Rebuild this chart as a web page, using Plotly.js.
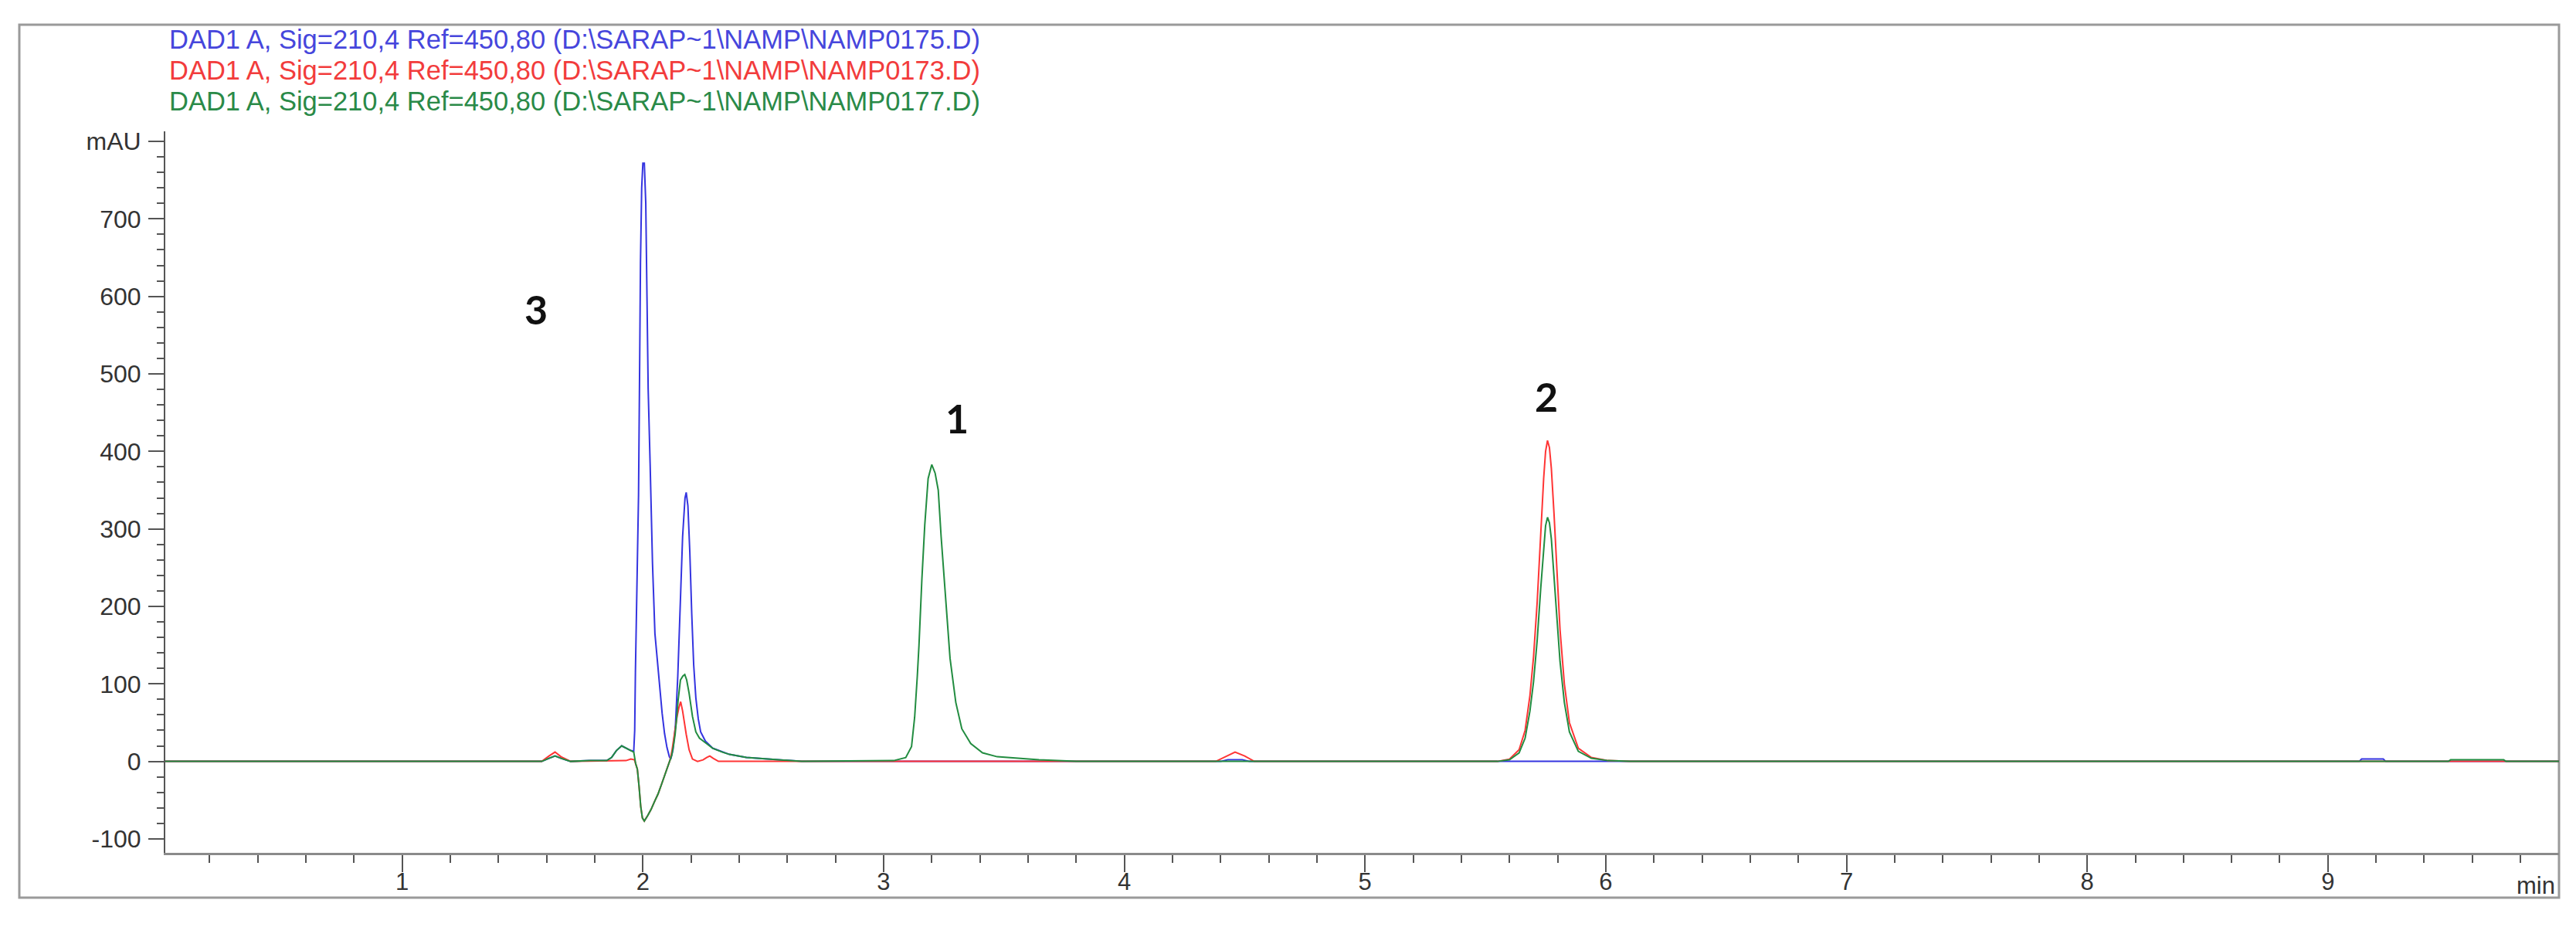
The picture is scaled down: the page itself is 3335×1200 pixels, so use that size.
<!DOCTYPE html>
<html>
<head>
<meta charset="utf-8">
<script src="https://cdn.plot.ly/plotly-3.0.1.min.js"></script>
<style>
  html, body { margin: 0; padding: 0; background: #ffffff; }
  #chart { width: 3335px; height: 1200px; }
</style>
</head>
<body>
<div id="chart"></div>
<script>
// ---- series names ----
const seriesNames = [
  "DAD1 A, Sig=210,4 Ref=450,80 (D:\\SARAP~1\\NAMP\\NAMP0175.D)",
  "DAD1 A, Sig=210,4 Ref=450,80 (D:\\SARAP~1\\NAMP\\NAMP0173.D)",
  "DAD1 A, Sig=210,4 Ref=450,80 (D:\\SARAP~1\\NAMP\\NAMP0177.D)"
];

// ---- NAMP0175 (blue) : time (min), signal (mAU) ----
const blueTime = [0, 1.58, 1.61, 1.635, 1.66, 1.70, 1.78, 1.85, 1.87, 1.89, 1.912, 1.93, 1.95, 1.962,
  1.966, 1.969, 1.975, 1.982, 1.986, 1.990, 1.995, 2.000, 2.006, 2.012, 2.017, 2.022, 2.030, 2.040,
  2.050, 2.067, 2.080, 2.090, 2.100, 2.110, 2.116, 2.125, 2.135, 2.145, 2.155, 2.165, 2.175, 2.180,
  2.187, 2.195, 2.203, 2.211, 2.220, 2.230, 2.240, 2.260, 2.290, 2.330, 2.360, 2.430, 2.550, 2.660,
  4.40, 4.43, 4.46, 4.49, 4.52, 9.13, 9.14, 9.23, 9.24, 9.96];
const blueSignal = [0, 0, 4, 7, 4, 0, 1, 1, 5, 14, 20, 17, 14, 13,
  40, 115, 230, 344, 490, 644, 740, 772, 772, 720, 600, 480, 385, 255,
  165, 102, 62, 36, 18, 6, 3, 15, 45, 110, 200, 290, 340, 347,
  330, 270, 190, 125, 82, 55, 38, 26, 17, 12, 9, 5, 2, 0,
  0, 2, 2, 2, 0, 0, 3, 3, 0, 0];

// ---- NAMP0173 (red) ----
const redTime = [0, 1.58, 1.61, 1.635, 1.66, 1.70, 1.93, 1.95, 1.965, 1.970, 1.977, 1.984, 1.991, 1.998,
  2.006, 2.020, 2.034, 2.048, 2.063, 2.077, 2.091, 2.105, 2.113, 2.120, 2.127, 2.135, 2.142, 2.150,
  2.157, 2.165, 2.172, 2.180, 2.192, 2.206, 2.227, 2.250, 2.265, 2.278, 2.292, 2.314,
  4.38, 4.42, 4.46, 4.50, 4.54,
  5.55, 5.60, 5.64, 5.665, 5.685, 5.70, 5.715, 5.73, 5.742, 5.750, 5.758, 5.766, 5.774, 5.785,
  5.796, 5.810, 5.828, 5.849, 5.886, 5.94, 6.01, 6.10, 9.96];
const redSignal = [0, 0, 7, 12, 6, 0, 1, 3, 2, -3, -10, -32, -58, -73,
  -77, -70, -62, -52, -42, -30, -18, -5, 2, 12, 28, 42, 58, 70,
  77, 65, 50, 35, 15, 3, 0, 2, 5, 7, 4, 0,
  0, 6, 12, 7, 0,
  0, 3, 15, 40, 85, 135, 205, 295, 365, 400, 414, 405, 378, 320,
  250, 170, 100, 50, 17, 5, 1, 0, 0];

// ---- NAMP0177 (green) ----
const greenTime = [0, 1.58, 1.61, 1.635, 1.66, 1.70, 1.78, 1.85, 1.87, 1.89, 1.912, 1.93, 1.95, 1.962,
  1.970, 1.977, 1.984, 1.991, 1.998, 2.006, 2.020, 2.034, 2.048, 2.063, 2.077, 2.091, 2.105, 2.113,
  2.120, 2.127, 2.134, 2.140, 2.146, 2.156, 2.166, 2.174, 2.182, 2.192, 2.206, 2.220, 2.235, 2.260,
  2.290, 2.330, 2.360, 2.430, 2.550, 2.660,
  3.042, 3.092, 3.116, 3.129, 3.140, 3.147, 3.159, 3.171, 3.185, 3.200, 3.214, 3.227, 3.239, 3.257,
  3.276, 3.300, 3.325, 3.362, 3.411, 3.472, 3.558, 3.645, 3.80,
  5.55, 5.60, 5.64, 5.665, 5.685, 5.70, 5.715, 5.73, 5.742, 5.750, 5.758, 5.766, 5.774, 5.785,
  5.796, 5.810, 5.828, 5.849, 5.886, 5.94, 6.01, 6.10,
  9.50, 9.51, 9.73, 9.74, 9.96];
const greenSignal = [0, 0, 4, 7, 4, 0, 1, 1, 5, 14, 20, 17, 14, 12,
  -3, -10, -32, -58, -73, -77, -70, -62, -52, -42, -30, -18, -5, 2,
  8, 20, 35, 55, 78, 105, 110, 112, 105, 88, 58, 38, 30, 24,
  17, 12, 9, 5, 2, 0,
  1, 5, 19, 57, 110, 150, 235, 305, 365, 383, 372, 350, 290, 210,
  133, 76, 42, 23, 11, 6, 4, 2, 0,
  0, 2, 11, 30, 65, 103, 156, 224, 278, 304, 315, 308, 287, 243,
  190, 129, 76, 38, 13, 4, 1, 0,
  0, 2, 2, 0, 0];

// ---- axis ticks ----
const xTickVals = [1, 2, 3, 4, 5, 6, 7, 8, 9];
const xTickText = ["1", "2", "3", "4", "5", "6", "7", "8", "9"];
const yTickVals = [-100, 0, 100, 200, 300, 400, 500, 600, 700, 800];
const yTickText = ["-100", "0", "100", "200", "300", "400", "500", "600", "700", "mAU"];

// ---- peak labels ----
const peakLabels = ["3", "1", "2"];
const peakLabelTime = [1.556, 3.305, 5.754];
const peakLabelSignal = [584, 443, 471];

// ---- colours ----
const lineColors = ["#3434e0", "#ff3535", "#228c40"];
const textColors = ["#4646dc", "#f23c3c", "#2a8a48"];

const traces = [
  {x: blueTime, y: blueSignal, name: seriesNames[0]},
  {x: redTime, y: redSignal, name: seriesNames[1]},
  {x: greenTime, y: greenSignal, name: seriesNames[2]}
].map((t, i) => Object.assign(t, {
  type: "scatter", mode: "lines",
  line: {color: lineColors[i], width: 2},
  hoverinfo: "skip", showlegend: false
}));

const W = 3335, H = 1200;
const L = 214, R = 22, T = 170, B = 96;
const pw = W - L - R, ph = H - T - B;
const px = v => (v - L) / pw;
const py = v => (H - B - v) / ph;

const annotations = [];
seriesNames.forEach((s, i) => {
  annotations.push({
    xref: "paper", yref: "paper", x: px(217), y: py(51 + 40 * i),
    xanchor: "left", yanchor: "middle", showarrow: false,
    text: s,
    font: {family: "Liberation Sans, Arial, sans-serif", size: 34.5, color: textColors[i]}
  });
});
peakLabels.forEach((lab, i) => {
  annotations.push({
    xref: "x", yref: "y", x: peakLabelTime[i], y: peakLabelSignal[i],
    xanchor: "center", yanchor: "middle", showarrow: false,
    text: "<b>" + lab + "</b>",
    font: {family: "Lato, 'Open Sans', sans-serif", size: 52, color: "#111111"}
  });
});
annotations.push({
  xref: "paper", yref: "paper", x: px(3310), y: py(1146),
  xanchor: "right", yanchor: "middle", showarrow: false, text: "min",
  font: {family: "Liberation Sans, Arial, sans-serif", size: 31, color: "#333333"}
});

const layout = {
  width: W, height: H,
  margin: {l: L, r: R, t: T, b: B, pad: 0},
  paper_bgcolor: "#ffffff", plot_bgcolor: "#ffffff",
  showlegend: false,
  xaxis: {
    range: [0.016, 9.96],
    showgrid: false, zeroline: false,
    showline: true, linecolor: "#8a8a8a", linewidth: 3,
    ticks: "outside", ticklen: 22, tickwidth: 2, tickcolor: "#555555",
    ticklabelstandoff: -14,
    tickmode: "array", tickvals: xTickVals, ticktext: xTickText,
    tickfont: {family: "Liberation Sans, Arial, sans-serif", size: 31, color: "#333333"},
    minor: {tickmode: "linear", tick0: 0, dtick: 0.2, ticks: "outside", ticklen: 10, tickwidth: 2, tickcolor: "#555555", showgrid: false}
  },
  yaxis: {
    range: [-118, 813],
    showgrid: false, zeroline: false,
    showline: true, linecolor: "#555555", linewidth: 2,
    ticks: "outside", ticklen: 20, tickwidth: 2, tickcolor: "#555555",
    ticklabelstandoff: 3,
    tickmode: "array", tickvals: yTickVals, ticktext: yTickText,
    tickfont: {family: "Liberation Sans, Arial, sans-serif", size: 32, color: "#333333"},
    minor: {tickmode: "linear", tick0: 0, dtick: 20, ticks: "outside", ticklen: 9, tickwidth: 2, tickcolor: "#555555", showgrid: false}
  },
  shapes: [{
    type: "rect", xref: "paper", yref: "paper",
    x0: px(25), x1: px(3313), y0: py(1162), y1: py(32),
    line: {color: "#9a9a9a", width: 3}, fillcolor: "rgba(0,0,0,0)", layer: "below"
  }],
  annotations: annotations
};

Plotly.newPlot("chart", traces, layout, {staticPlot: true, displayModeBar: false});
</script>
</body>
</html>
